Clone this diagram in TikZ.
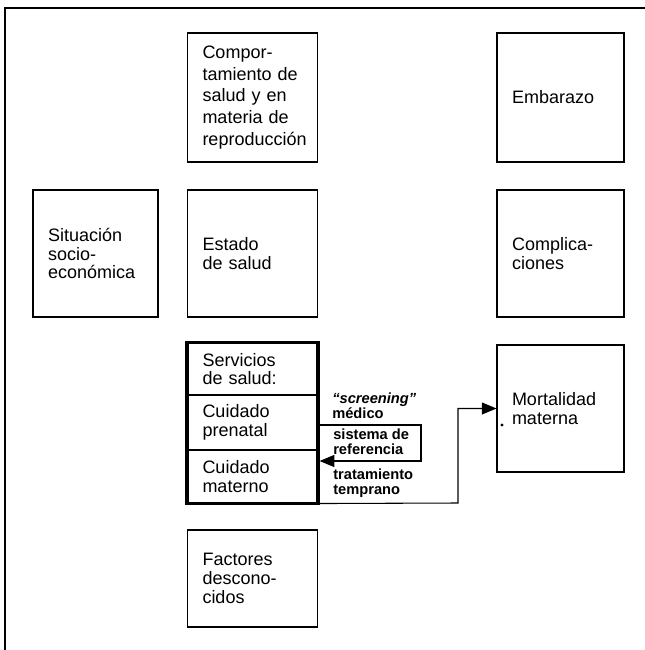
\documentclass[tikz,border=0pt]{standalone}
\usepackage{fontspec}
\setmainfont{Liberation Sans}
\usetikzlibrary{arrows.meta}
\newcommand\bxfont{\fontsize{13.5}{14}\selectfont}
\newcommand\lbfont{\bfseries\fontsize{11}{10.8}\selectfont}
\begin{document}
\begin{tikzpicture}[x=0.75pt,y=-0.75pt,
  bx/.style={draw, line width=0.8pt, rectangle, inner xsep=11.25pt, inner ysep=0pt, align=left, font=\bxfont},
  lbl/.style={anchor=north west, inner sep=0pt, align=left, font=\lbfont},
  conn/.style={line width=0.8pt, -{Triangle[length=11pt,width=9pt]}},
  frame/.style={line width=0.8pt}]
\useasboundingbox (0,0) rectangle (645,650);
% outer frame
\coordinate (fTL) at (5,8);
\coordinate (fTR) at (645,8);
\coordinate (fBL) at (5,650);
\draw[frame] (fTR) -- (fTL) -- (fBL);
% boxes
\node[bx, minimum width=97.5pt, minimum height=96.75pt, text width=75pt, font=\fontsize{13.5}{16.3}\selectfont] (comp) at (252.5,97.5)
  {Compor-\\tamiento de\\salud y en\\materia de\\reproducción};
\node[bx, minimum width=95.25pt, minimum height=96.75pt, text width=72.75pt] (emb) at (560.5,97.5) {Embarazo};
\node[bx, minimum width=93.75pt, minimum height=95.25pt, text width=71.25pt] (sit) at (95.5,253.5) {Situación\\socio-\\económica};
\node[bx, minimum width=97.5pt, minimum height=95.25pt, text width=75pt] (est) at (252.5,253.5) {Estado\\de salud};
\node[bx, minimum width=95.25pt, minimum height=95.25pt, text width=72.75pt] (compl) at (560.5,253.5) {Complica-\\ciones};
\node[bx, minimum width=97.5pt, minimum height=39pt, text width=75pt, font=\fontsize{13.5}{13.75}\selectfont] (s1) at (252.5,369) {Servicios\\de salud:};
\node[bx, minimum width=97.5pt, minimum height=41.25pt, text width=75pt, font=\fontsize{13.5}{13.75}\selectfont] (s2) at (252.5,422.5) {Cuidado\\prenatal};
\node[bx, minimum width=97.5pt, minimum height=39.75pt, text width=75pt, font=\fontsize{13.5}{13.75}\selectfont] (s3) at (252.5,476.5) {Cuidado\\materno};
\draw[line width=2.4pt] (s1.north west) rectangle (s3.south east);
\node[bx, minimum width=95.25pt, minimum height=95.25pt, text width=72.75pt] (mort) at (560.5,408.5) {Mortalidad\\materna};
\node[bx, minimum width=97.5pt, minimum height=72.75pt, text width=75pt] (fact) at (252.5,578.5) {Factores\\descono-\\cidos};
% labels
\node[lbl] (scr) at (332,393) {{\itshape “screening”}\\médico};
\node[lbl] (sis) at (333,429) {sistema de\\referencia};
\node[lbl] (tra) at (333,469) {tratamiento\\temprano};
% connectors
\coordinate (turn) at (458,503);
\draw[conn] (s3.south east) -- (turn) |- (mort.west);
\coordinate (fb1) at (421,425);
\coordinate (fb2) at (421,461);
\draw[conn, shorten >=1.2pt] (s2.east |- fb1) -- (fb1) -- (fb2) -- (s3.east |- fb2);
% speck in Mortalidad box
\coordinate (dot) at (502,425);
\fill (dot) circle (1.3pt);
\end{tikzpicture}
\end{document}
